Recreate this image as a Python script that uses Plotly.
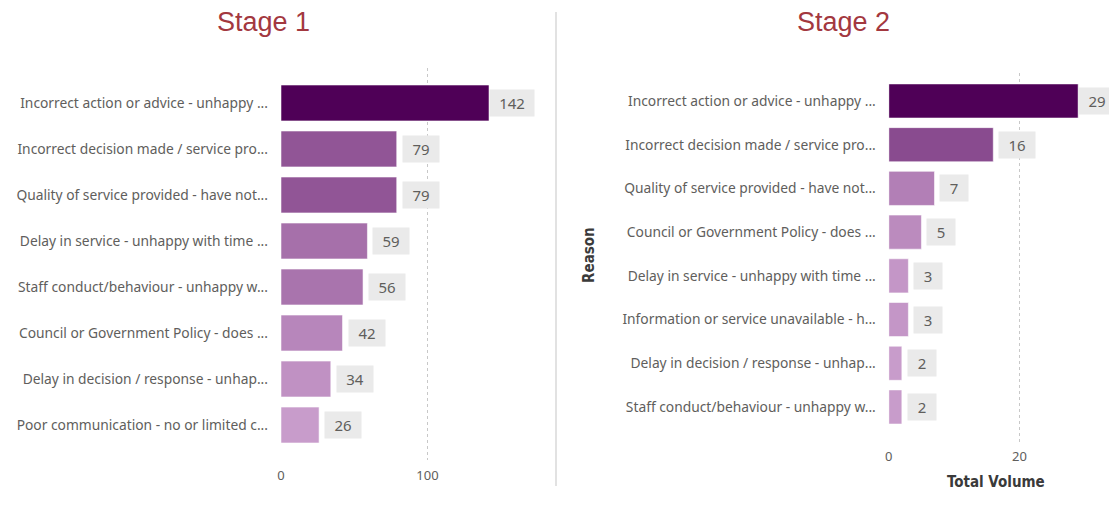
import plotly.graph_objects as go

# Stage 1 complaints by reason
stage1_reasons = [
    'Incorrect action or advice - unhappy ...',
    'Incorrect decision made / service pro...',
    'Quality of service provided - have not...',
    'Delay in service - unhappy with time ...',
    'Staff conduct/behaviour - unhappy w...',
    'Council or Government Policy - does ...',
    'Delay in decision / response - unhap...',
    'Poor communication - no or limited c...',
]
stage1_volume = [142, 79, 79, 59, 56, 42, 34, 26]

# Stage 2 complaints by reason
stage2_reasons = [
    'Incorrect action or advice - unhappy ...',
    'Incorrect decision made / service pro...',
    'Quality of service provided - have not...',
    'Council or Government Policy - does ...',
    'Delay in service - unhappy with time ...',
    'Information or service unavailable - h...',
    'Delay in decision / response - unhap...',
    'Staff conduct/behaviour - unhappy w...',
]
stage2_volume = [29, 16, 7, 5, 3, 3, 2, 2]

LIGHT = '#C89CCB'
DARK = '#4F0057'
TICK_FONT = dict(family='Noto Sans', size=13.8, color='#605E5C')

fig = go.Figure()


def add_stage(reasons, volume, xa, ya):
    fig.add_trace(go.Bar(
        x=volume, y=reasons, orientation='h', xaxis=xa, yaxis=ya,
        width=0.78,
        marker=dict(color=volume, colorscale=[[0, LIGHT], [1, DARK]],
                    cmin=min(volume), cmax=max(volume),
                    line=dict(color='rgba(255,255,255,0.55)', width=1)),
        showlegend=False, hoverinfo='x+y',
    ))
    top = max(volume)
    for v, r in zip(volume, reasons):
        txt = str(v)
        fig.add_annotation(
            x=v, y=r, xref=xa, yref=ya, text=txt, showarrow=False,
            xanchor='left', yanchor='middle', xshift=0 if v == top else 5,
            bgcolor='#EAEAEA',
            width=14 + 8 * len(txt), height=20, borderpad=3,
            font=dict(family='Noto Sans', size=15, color='#605E5C'),
        )


add_stage(stage1_reasons, stage1_volume, 'x', 'y')
add_stage(stage2_reasons, stage2_volume, 'x2', 'y2')

H = 509
W = 1109

grid = dict(showgrid=True, gridcolor='#C8C8C8', griddash='dot', gridwidth=1,
            zeroline=False, showline=False, ticks='',
            tickfont=dict(family='Noto Sans', size=13, color='#605E5C'))

fig.update_layout(
    width=W, height=H,
    margin=dict(l=0, r=0, t=0, b=0),
    paper_bgcolor='white', plot_bgcolor='white',
    xaxis=dict(domain=[278 / W, 525 / W], range=[0, 168], dtick=100,
               anchor='y', ticklabelstandoff=6, **grid),
    yaxis=dict(domain=[1 - 460 / H, 1 - 68 / H], range=[7.76, -0.76],
               anchor='x', showgrid=False, zeroline=False, ticks='',
               ticklabelstandoff=12, tickfont=TICK_FONT),
    xaxis2=dict(domain=[888 / W, 1099 / W], range=[0, 32.2], dtick=20,
                anchor='y2', ticklabelstandoff=2, **grid),
    yaxis2=dict(domain=[1 - 445 / H, 1 - 73 / H], range=[7.87, -0.64],
                anchor='x2', showgrid=False, zeroline=False, ticks='',
                ticklabelstandoff=12, tickfont=TICK_FONT),
)

title_font = dict(family='Liberation Sans', size=27, color='#A3383F')
for label, cx in [('Stage 1', 260), ('Stage 2', 843)]:
    fig.add_annotation(x=cx / W, y=1 - 22 / H, xref='paper', yref='paper', text=label,
                       xanchor='center', yanchor='middle', showarrow=False, font=title_font)

axis_title_font = dict(family='DejaVu Sans Condensed', size=15, color='#3A3A3A')
fig.add_annotation(x=587 / W, y=1 - 255 / H, xref='paper', yref='paper', text='<b>Reason</b>',
                   xanchor='center', yanchor='middle', textangle=-90, showarrow=False,
                   font=axis_title_font)
fig.add_annotation(x=996 / W, y=1 - 482 / H, xref='paper', yref='paper', text='<b>Total Volume</b>',
                   xanchor='center', yanchor='middle', showarrow=False, font=axis_title_font)

# divider between the two visuals
fig.add_shape(type='line', xref='paper', yref='paper', x0=554 / W, x1=554 / W,
              y0=1 - 12 / H, y1=1 - 486 / H, line=dict(color='#D9D9D9', width=1.5))

fig.write_html('out.html', config={'displayModeBar': False},
               post_script="document.body.style.margin='0';")
